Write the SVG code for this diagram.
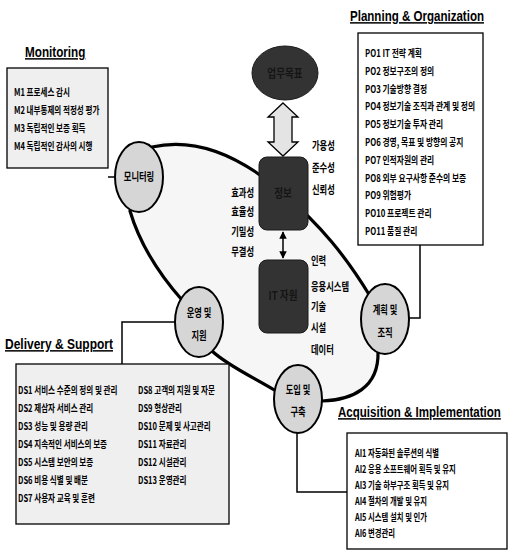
<svg xmlns="http://www.w3.org/2000/svg" width="511" height="555" viewBox="0 0 511 555">
<defs>
<style>
.t{font-family:"Noto Sans CJK KR","Liberation Sans",sans-serif;font-weight:700;font-size:10.5px;fill:#000}
.c{font-family:"Noto Sans CJK KR","Liberation Sans",sans-serif;font-weight:700;font-size:11.5px;fill:#000}
.h{font-family:"Liberation Sans",Arial,sans-serif;font-weight:700;font-size:15px;fill:#000;text-decoration:underline}
.box{fill:#fff;stroke:#000;stroke-width:1.3}
.dbox{fill:#efefef;stroke:#000;stroke-width:1.3}
.ell{fill:#d6d6d6;stroke:#000;stroke-width:2}
.dark{fill:#333;stroke:#1a1a1a;stroke-width:1}
.loop{fill:none;stroke:#000;stroke-width:3.2;stroke-linecap:round}
.con{fill:none;stroke:#000;stroke-width:1.5}
.dk{font-family:"Noto Sans CJK KR",sans-serif;font-weight:700;font-size:12px;fill:#151515}
</style>
<marker id="ah" viewBox="0 0 10 10" refX="9" refY="5" markerWidth="5" markerHeight="5" orient="auto-start-reverse">
<path d="M0,0 L10,5 L0,10 Z" fill="#000"/>
</marker>
</defs>
<rect width="511" height="555" fill="#fff"/>
<path d="M140,145 C200,130 245,160 283,193 S345,255 372,300 L380,355 C378,390 350,400 322,401 L276,392 C255,378 225,365 210,350 L182,300 C160,275 140,245 130,211 Z" fill="#f6f6f6"/>

<g id="connectors">
<path class="loop" d="M152,147 C200,136 245,160 283,193 S345,255 370,296"/>
<path class="loop" d="M378,352 C379,388 352,400 322,401"/>
<path class="loop" d="M276,391 C255,378 228,366 212,351"/>
<path class="loop" d="M130,211 C140,245 160,275 182,300"/>
<path class="con" d="M108,177 L116,177"/>
<path class="con" d="M420,245 L420,318 L409,318"/>
<path class="con" d="M175,322 L122,322 L122,364"/>
<path class="con" d="M297,433 L297,492 L347,492"/>
<path class="con" d="M283,232 L283,258" marker-start="url(#ah)" marker-end="url(#ah)"/>
<path d="M283,103 L298,117 L292,117 L292,142 L298,142 L283,156 L268,142 L274,142 L274,117 L268,117 Z" fill="#e4e4e4" stroke="#000" stroke-width="1.3"/>
</g>

<g id="business">
<ellipse cx="285" cy="73" rx="33" ry="27" class="dark"/>
<text class="dk" text-anchor="middle" transform="translate(285,78) scale(0.8,1)">업무목표</text>
</g>
<g id="information">
<rect x="259" y="157" width="49" height="73" rx="8" class="dark"/>
<text class="dk" text-anchor="middle" transform="translate(283,198) scale(0.8,1)">정보</text>
</g>
<g id="resources">
<rect x="259" y="260" width="49" height="73" rx="8" class="dark"/>
<text class="dk" text-anchor="middle" transform="translate(283,300) scale(0.8,1)">IT 자원</text>
</g>

<g id="criteria">
<text class="c" transform="translate(312,150) scale(0.72,1)">가용성</text>
<text class="c" transform="translate(312,172) scale(0.72,1)">준수성</text>
<text class="c" transform="translate(312,194) scale(0.72,1)">신뢰성</text>
<text class="c" text-anchor="end" transform="translate(254,197) scale(0.72,1)">효과성</text>
<text class="c" text-anchor="end" transform="translate(254,216) scale(0.72,1)">효율성</text>
<text class="c" text-anchor="end" transform="translate(254,236) scale(0.72,1)">기밀성</text>
<text class="c" text-anchor="end" transform="translate(254,256) scale(0.72,1)">무결성</text>
<text class="c" transform="translate(311,265) scale(0.72,1)">인력</text>
<text class="c" transform="translate(311,291) scale(0.72,1)">응용시스템</text>
<text class="c" transform="translate(311,311) scale(0.72,1)">기술</text>
<text class="c" transform="translate(311,332) scale(0.72,1)">시설</text>
<text class="c" transform="translate(311,354) scale(0.72,1)">데이터</text>
</g>

<g id="n-monitoring">
<ellipse cx="139" cy="177" rx="24" ry="35" class="ell"/>
<text class="c" text-anchor="middle" transform="translate(139,181) scale(0.72,1)">모니터링</text>
</g>
<g id="n-planning">
<ellipse cx="385" cy="319" rx="24" ry="35" class="ell"/>
<text class="c" text-anchor="middle" transform="translate(385,314) scale(0.72,1)">계획 및</text>
<text class="c" text-anchor="middle" transform="translate(385,337) scale(0.72,1)">조직</text>
</g>
<g id="n-acquisition">
<ellipse cx="298" cy="399" rx="24" ry="34" class="ell"/>
<text class="c" text-anchor="middle" transform="translate(298,394) scale(0.72,1)">도입 및</text>
<text class="c" text-anchor="middle" transform="translate(298,416) scale(0.72,1)">구축</text>
</g>
<g id="n-delivery">
<ellipse cx="199" cy="322" rx="24" ry="35" class="ell"/>
<text class="c" text-anchor="middle" transform="translate(199,317) scale(0.72,1)">운영 및</text>
<text class="c" text-anchor="middle" transform="translate(199,340) scale(0.72,1)">지원</text>
</g>

<g id="monitoring-box">
<text class="h" transform="translate(25,57) scale(0.78,1)">Monitoring</text>
<rect x="7" y="68" width="101" height="100" class="dbox"/>
<g transform="translate(14,0) scale(0.72,1)">
<text class="t" y="96">M1 프로세스 감시</text>
<text class="t" y="114">M2 내부통제의 적정성 평가</text>
<text class="t" y="132">M3 독립적인 보증 획득</text>
<text class="t" y="150">M4 독립적인 감사의 시행</text>
</g>
</g>

<g id="planning-box">
<text class="h" transform="translate(350,21) scale(0.77,1)">Planning &amp; Organization</text>
<rect x="358" y="33" width="125" height="212" class="box"/>
<g transform="translate(365,0) scale(0.74,1)">
<text class="t" y="57">PO1 IT 전략 계획</text>
<text class="t" y="75">PO2 정보구조의 정의</text>
<text class="t" y="93">PO3 기술방향 결정</text>
<text class="t" y="110">PO4 정보기술 조직과 관계 및 정의</text>
<text class="t" y="128">PO5 정보기술 투자 관리</text>
<text class="t" y="146">PO6 경영, 목표 및 방향의 공지</text>
<text class="t" y="164">PO7 인적자원의 관리</text>
<text class="t" y="182">PO8 외부 요구사항 준수의 보증</text>
<text class="t" y="199">PO9 위험평가</text>
<text class="t" y="217">PO10 프로젝트 관리</text>
<text class="t" y="235">PO11 품질 관리</text>
</g>
</g>

<g id="delivery-box">
<text class="h" transform="translate(5,349) scale(0.8,1)">Delivery &amp; Support</text>
<rect x="16" y="364" width="213" height="160" class="dbox"/>
<g transform="translate(18,0) scale(0.72,1)">
<text class="t" y="394">DS1 서비스 수준의 정의 및 관리</text>
<text class="t" y="412">DS2 제삼자 서비스 관리</text>
<text class="t" y="430">DS3 성능 및 용량 관리</text>
<text class="t" y="448">DS4 지속적인 서비스의 보증</text>
<text class="t" y="466">DS5 시스템 보안의 보증</text>
<text class="t" y="484">DS6 비용 식별 및 배분</text>
<text class="t" y="502">DS7 사용자 교육 및 훈련</text>
</g>
<g transform="translate(138,0) scale(0.72,1)">
<text class="t" y="394">DS8 고객의 지원 및 자문</text>
<text class="t" y="412">DS9 형상관리</text>
<text class="t" y="430">DS10 문제 및 사고관리</text>
<text class="t" y="448">DS11 자료관리</text>
<text class="t" y="466">DS12 시설관리</text>
<text class="t" y="484">DS13 운영관리</text>
</g>
</g>

<g id="acquisition-box">
<text class="h" transform="translate(338,417) scale(0.77,1)">Acquisition &amp; Implementation</text>
<rect x="347" y="433" width="160" height="116" class="box"/>
<g transform="translate(355,0) scale(0.7,1)">
<text class="t" y="457">AI1 자동화된 솔루션의 식별</text>
<text class="t" y="473">AI2 응용 소프트웨어 획득 및 유지</text>
<text class="t" y="489">AI3 기술 하부구조 획득 및 유지</text>
<text class="t" y="505">AI4 절차의 개발 및 유지</text>
<text class="t" y="521">AI5 시스템 설치 및 인가</text>
<text class="t" y="537">AI6 변경관리</text>
</g>
</g>
</svg>
